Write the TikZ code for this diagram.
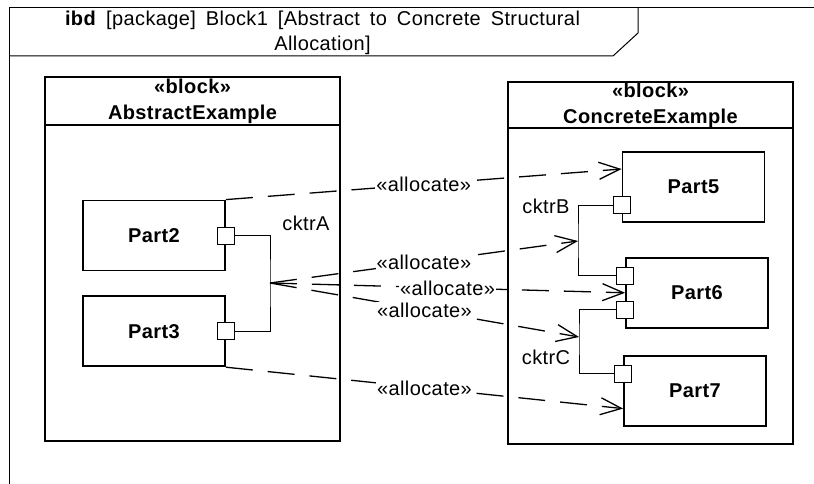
\documentclass[tikz,border=0pt]{standalone}
\usepackage{fontspec}
\setmainfont{Liberation Sans}[LetterSpace=2]
\usetikzlibrary{positioning, arrows.meta, calc}

\begin{document}
\begin{tikzpicture}[x=1pt, y=-1pt, font=\fontsize{20}{25}\selectfont,
    wire/.style={line width=1pt},
    block/.style={rectangle, draw, line width=1.8pt, inner sep=0pt},
    blockhead/.style={block, anchor=north, minimum height=#1, align=center, font=\fontsize{20}{26}\selectfont\bfseries},
    part/.style={block, minimum width=142pt, minimum height=70pt, font=\fontsize{20}{25}\selectfont\bfseries},
    port/.style={rectangle, draw, wire, fill=white, minimum size=17pt, inner sep=0pt},
    alloc/.style={line width=1.3pt, dash pattern=on 27pt off 15pt, -{Straight Barb[length=21pt, width=17pt]}},
    tag/.style={fill=white, inner sep=1pt}]
    \useasboundingbox (0,0) rectangle (814,484);

    % frame and its tab
    \draw[wire] (814,8) -- (9,8) -- (9,484);
    \draw[wire] (9,56) -- (613,56) -- (638,33) -- (638,8);
    \node (title) at (322.5,32.5) [align=center] {\makebox[515pt][s]{\textbf{ibd} [package] Block1 [Abstract to Concrete Structural}\\Allocation]};

    % the two blocks
    \node (abstract) [block, minimum width=295pt, minimum height=364pt] at (192.5,259) {};
    \node (abshead) [blockhead=48pt, minimum width=295pt] at (abstract.north) {«block»\\AbstractExample};
    \node (concrete) [block, minimum width=285pt, minimum height=362pt] at (650.5,263) {};
    \node (conhead) [blockhead=46pt, minimum width=285pt] at (concrete.north) {«block»\\ConcreteExample};

    % parts
    \node (part2) [part] at (154,235.5) {Part2};
    \node (part3) [part, below=24pt of part2] {Part3};
    \node (part5) [part] at (693.5,187) {Part5};
    \node (part6) [part, below=34pt of part5, xshift=3.5pt] {Part6};
    \node (part7) [part, below=26pt of part6, xshift=-2pt] {Part7};

    % allocations
    \draw[alloc] (part2.north east) -- node[tag] {«allocate»} ($(part5.west)+(0,-18)$);
    \coordinate (ja) at (270,283);
    \coordinate (jb) at (578,241);
    \coordinate (jc) at (579,337);
    \draw[alloc] (ja) -- node[tag] {«allocate»} (jb);
    \draw[alloc] (ja) -- node[tag] {«allocate»} (part6.west);
    \draw[alloc] (ja) -- node[tag] {«allocate»} (jc);
    \draw[alloc] (part3.south east) -- node[tag] {«allocate»} ($(part7.west)+(0,18)$);

    % ports and connectors
    \node (p2) [port] at (part2.east) {};
    \node (p3) [port] at (part3.east) {};
    \node (p5) [port] at ($(part5.west)+(0,18)$) {};
    \node (p6a) [port] at ($(part6.west)+(0,-17)$) {};
    \node (p6b) [port] at ($(part6.west)+(0,17)$) {};
    \node (p7) [port] at ($(part7.west)+(0,-17)$) {};
    \draw[wire] (p2.east) -| (ja) |- (p3.east);
    \draw[wire] (p5.west) -| (jb) |- (p6a.west);
    \draw[wire] (p6b.west) -| (jc) |- (p7.west);
    \node (cktrA) at (306,223) {cktrA};
    \node (cktrB) at (546,206) {cktrB};
    \node (cktrC) at (546,357) {cktrC};
\end{tikzpicture}
\end{document}
